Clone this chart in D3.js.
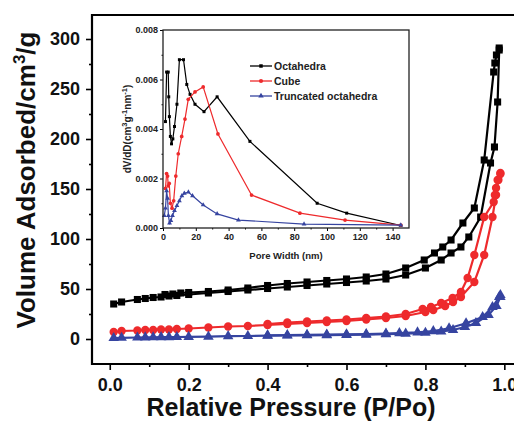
<!DOCTYPE html>
<html><head><meta charset="utf-8">
<script src="https://cdn.jsdelivr.net/npm/d3@7/dist/d3.min.js"></script>
<style>
body{margin:0;background:#fff;}
svg{display:block;font-family:"Liberation Sans",Arial,sans-serif;font-weight:bold;}
</style></head>
<body>
<svg id="chart" width="514" height="425"></svg>
<script>
// ---------- main isotherm data [P/Po, volume] ----------
const octAds = [[0.01,35],[0.03,37],[0.07,39.5],[0.09,40.5],[0.11,41.5],[0.13,42],[0.15,43],[0.17,43.5],[0.2,44.5],[0.25,46],[0.3,47.5],[0.35,49],[0.4,50.5],[0.45,52],[0.5,53.5],[0.55,55],[0.6,56.5],[0.65,58],[0.7,60],[0.75,64],[0.8,71],[0.84,79],[0.865,86],[0.89,92],[0.91,102],[0.94,122],[0.965,176],[0.975,192],[0.983,237],[0.987,289]];
const octDes = [[0.987,291],[0.98,284],[0.976,276],[0.973,267],[0.949,179],[0.924,131],[0.895,116],[0.865,99],[0.844,92],[0.823,86],[0.797,79],[0.75,71],[0.7,65],[0.65,62],[0.6,60],[0.55,58.5],[0.5,57],[0.45,55.5],[0.4,53.5],[0.35,51],[0.3,49],[0.25,47.5],[0.2,46.5],[0.18,46],[0.16,45],[0.14,44.5]];
const cubeAds = [[0.01,7],[0.03,8],[0.07,8.5],[0.09,9],[0.11,9],[0.13,9.5],[0.15,9.5],[0.17,10],[0.2,10.5],[0.25,11.5],[0.3,12.5],[0.35,13],[0.4,14],[0.45,15],[0.5,16],[0.55,17],[0.6,18],[0.65,19.5],[0.7,21],[0.75,23],[0.8,27],[0.82,29],[0.85,33],[0.87,37],[0.89,42],[0.924,57],[0.949,84],[0.97,122],[0.979,144],[0.985,159],[0.99,165]];
const cubeDes = [[0.99,166],[0.983,159],[0.979,151],[0.976,144],[0.973,137],[0.949,122],[0.924,84],[0.907,61],[0.89,47],[0.869,41],[0.84,36],[0.814,32],[0.793,30],[0.75,25],[0.7,22.5],[0.65,21],[0.6,19.5],[0.55,18.5],[0.5,17.5],[0.45,16.5],[0.4,15]];
const truncAds = [[0.01,1],[0.03,1.2],[0.07,1.5],[0.09,1.6],[0.11,1.7],[0.13,1.8],[0.15,1.9],[0.17,2],[0.2,2.1],[0.25,2.4],[0.3,2.8],[0.35,3],[0.4,3.3],[0.45,3.5],[0.5,3.7],[0.55,3.9],[0.6,4.1],[0.65,4.4],[0.7,4.8],[0.75,5.3],[0.8,6.2],[0.84,7.5],[0.87,9],[0.9,12],[0.928,16],[0.96,24],[0.98,33],[0.99,42]];
const truncDes = [[0.99,44],[0.987,42],[0.97,32],[0.945,22],[0.903,15.7],[0.86,10.7],[0.82,7.8],[0.78,6.6],[0.734,5.8],[0.7,5.3],[0.65,4.9],[0.6,4.6],[0.55,4.3],[0.5,4.1],[0.45,3.8],[0.4,3.6]];

// ---------- inset pore-size data ----------
const octD = [1.5,2.2,3.2,3.5,3.9,4.5,5.2,6.0,7.0,8.5,10.0,12.5,14.5,16.5,19.5,25,33,53,94,112,145];
const octV = [0.0043,0.0063,0.0063,0.0053,0.0045,0.0037,0.0034,0.0036,0.0041,0.0050,0.0068,0.0068,0.0058,0.0054,0.0050,0.0047,0.0053,0.0035,0.0010,0.0006,0.0001];
const cubeD = [1.5,2.2,2.8,3.2,3.8,4.5,5.5,6.5,7.8,9.3,11.4,13.4,15.4,19.5,24.5,33.5,54,83.5,111,145];
const cubeV = [0.0016,0.0022,0.0021,0.0017,0.0018,0.0010,0.0008,0.0011,0.0021,0.0030,0.0037,0.0044,0.0052,0.0055,0.0057,0.0038,0.00133,0.0006,0.00032,0.00012];
const truncD = [0.8,1.5,2.2,2.8,3.3,4.0,4.8,5.8,7.0,8.5,10,11.5,13,15.5,18,24.5,33,46,86,145];
const truncV = [0.0005,0.0008,0.0015,0.0012,0.0005,0.0002,0.0003,0.0005,0.0007,0.0009,0.0011,0.0013,0.0014,0.00145,0.0013,0.00093,0.00057,0.00032,0.00016,0.00012];

const seriesNames = ["Octahedra","Cube","Truncated octahedra"];
const xTicks = [0,0.2,0.4,0.6,0.8,1.0];
const yTicks = [0,50,100,150,200,250,300];
const ixTicks = [0,20,40,60,80,100,120,140];
const iyTicks = [0,0.002,0.004,0.006,0.008];

const colors = ["#000000","#ee2a2c","#3644a0"];
const symbols = [d3.symbolSquare, d3.symbolCircle, d3.symbolTriangle];

const svg = d3.select("#chart");

// ---------- main plot ----------
const x = d3.scaleLinear().domain([-0.045, 1.06]).range([92, 528]);
const y = d3.scaleLinear().domain([-25, 324]).range([364, 15]);
const [L,R] = x.range(), [B,T] = y.range();

const gx = svg.append("g").attr("transform",`translate(0,${B})`)
  .call(d3.axisBottom(x).tickValues(xTicks).tickFormat(d3.format(".1f")).tickSize(6).tickSizeOuter(0).tickPadding(8));
gx.selectAll(".tick line").attr("stroke-width",1.6);
gx.selectAll("text").attr("font-size",18).attr("font-weight","bold").attr("font-family","Liberation Sans, Arial").attr("fill","#111");
gx.select(".domain").remove();
const gxm = svg.append("g").attr("transform",`translate(0,${B})`)
  .call(d3.axisBottom(x).tickValues([0.1,0.3,0.5,0.7,0.9]).tickFormat("").tickSize(3).tickSizeOuter(0));
gxm.select(".domain").remove(); gxm.selectAll("line").attr("stroke-width",1.6);

const gy = svg.append("g").attr("transform",`translate(${L},0)`)
  .call(d3.axisLeft(y).tickValues(yTicks).tickSize(6).tickSizeOuter(0).tickPadding(6));
gy.selectAll(".tick line").attr("stroke-width",1.6);
gy.selectAll("text").attr("font-size",18).attr("font-weight","bold").attr("font-family","Liberation Sans, Arial").attr("fill","#111");
gy.select(".domain").remove();
const gym = svg.append("g").attr("transform",`translate(${L},0)`)
  .call(d3.axisLeft(y).tickValues([25,75,125,175,225,275]).tickFormat("").tickSize(3).tickSizeOuter(0));
gym.select(".domain").remove(); gym.selectAll("line").attr("stroke-width",1.6);

svg.append("path").attr("d",`M${R},${T}H${L}V${B}H${R}`).attr("fill","none").attr("stroke","#000").attr("stroke-width",2.2);

svg.append("text").attr("x",291).attr("y",416).attr("text-anchor","middle").attr("font-size",25).attr("fill","#111")
  .text("Relative Pressure (P/Po)");
const yt = svg.append("text").attr("transform","translate(35,180) rotate(-90)").attr("text-anchor","middle").attr("font-size",26).attr("fill","#111");
yt.append("tspan").text("Volume Adsorbed/cm");
yt.append("tspan").attr("font-size",17).attr("dy",-10).text("3");
yt.append("tspan").attr("dy",10).text("/g");

const line = d3.line().x(d=>x(d[0])).y(d=>y(d[1]));
const mainSeries = [[octAds,octDes],[cubeAds,cubeDes],[truncAds,truncDes]];
const mSizes = [50,55,48];
mainSeries.forEach((branches,i)=>{
  const g = svg.append("g");
  branches.forEach(b=>{
    g.append("path").attr("d",line(b)).attr("fill","none").attr("stroke",colors[i]).attr("stroke-width",2.2);
    g.selectAll(null).data(b).enter().append("path")
      .attr("d",d3.symbol().type(symbols[i]).size(mSizes[i]))
      .attr("transform",d=>`translate(${x(d[0])},${y(d[1])})`)
      .attr("fill",colors[i]);
  });
});

// ---------- inset ----------
const ix = d3.scaleLinear().domain([0,150]).range([163,409]);
const iy = d3.scaleLinear().domain([0,0.008]).range([228,30]);
svg.append("rect").attr("x",ix(0)).attr("y",iy(0.008)).attr("width",ix(150)-ix(0)).attr("height",iy(0)-iy(0.008))
  .attr("fill","#fff").attr("stroke","none");

const igx = svg.append("g").attr("transform",`translate(0,${iy(0)})`)
  .call(d3.axisBottom(ix).tickValues(ixTicks).tickFormat(d3.format("d")).tickSize(3).tickSizeOuter(0).tickPadding(3));
igx.select(".domain").remove();
igx.selectAll("text").attr("font-size",9).attr("font-weight","bold").attr("font-family","Liberation Sans, Arial").attr("fill","#222");
const igxm = svg.append("g").attr("transform",`translate(0,${iy(0)})`)
  .call(d3.axisBottom(ix).tickValues([10,30,50,70,90,110,130]).tickFormat("").tickSize(1.5).tickSizeOuter(0));
igxm.select(".domain").remove();

const igy = svg.append("g").attr("transform",`translate(${ix(0)},0)`)
  .call(d3.axisLeft(iy).tickValues(iyTicks).tickFormat(d3.format(".3f")).tickSize(3).tickSizeOuter(0).tickPadding(2));
igy.select(".domain").remove();
igy.selectAll("text").attr("font-size",9).attr("font-weight","bold").attr("font-family","Liberation Sans, Arial").attr("fill","#222");
const igym = svg.append("g").attr("transform",`translate(${ix(0)},0)`)
  .call(d3.axisLeft(iy).tickValues([0.001,0.003,0.005,0.007]).tickFormat("").tickSize(1.5).tickSizeOuter(0));
igym.select(".domain").remove();

const insetSeries = [[octD,octV],[cubeD,cubeV],[truncD,truncV]];
const iline = d3.line().x(d=>ix(d[0])).y(d=>iy(d[1]));
const iSizes = [9,11,10];
insetSeries.forEach(([D,V],i)=>{
  const pts = D.map((d,k)=>[d,V[k]]);
  const g = svg.append("g");
  g.append("path").attr("d",iline(pts)).attr("fill","none").attr("stroke",colors[i]).attr("stroke-width",1.2);
  g.selectAll(null).data(pts).enter().append("path")
    .attr("d",d3.symbol().type(symbols[i]).size(iSizes[i]))
    .attr("transform",d=>`translate(${ix(d[0])},${iy(d[1])})`).attr("fill",colors[i]);
});

svg.append("rect").attr("x",ix(0)).attr("y",iy(0.008)).attr("width",ix(150)-ix(0)).attr("height",iy(0)-iy(0.008))
  .attr("fill","none").attr("stroke","#222").attr("stroke-width",1.3);

svg.append("text").attr("x",286).attr("y",259).attr("text-anchor","middle").attr("font-size",9.5).attr("fill","#222").text("Pore Width (nm)");
const iyt = svg.append("text").attr("transform","translate(131,129) rotate(-90)").attr("text-anchor","middle").attr("font-size",10).attr("fill","#222");
iyt.append("tspan").text("dV/dD(cm");
iyt.append("tspan").attr("font-size",7.5).attr("dy",-4.5).text("3");
iyt.append("tspan").attr("dy",4.5).text("g");
iyt.append("tspan").attr("font-size",7.5).attr("dy",-4.5).text("-1");
iyt.append("tspan").attr("dy",4.5).text("nm");
iyt.append("tspan").attr("font-size",7.5).attr("dy",-4.5).text("-1");
iyt.append("tspan").attr("dy",4.5).text(")");

const lg = svg.append("g");
seriesNames.forEach((name,i)=>{
  const ly = 66 + i*15;
  lg.append("line").attr("x1",250).attr("x2",272).attr("y1",ly).attr("y2",ly).attr("stroke",colors[i]).attr("stroke-width",1.3);
  lg.append("path").attr("d",d3.symbol().type(symbols[i]).size(iSizes[i]+3)).attr("transform",`translate(261,${ly})`).attr("fill",colors[i]);
  lg.append("text").attr("x",274).attr("y",ly+3.8).attr("font-size",10.5).attr("fill","#222").text(name);
});
</script>
</body></html>
